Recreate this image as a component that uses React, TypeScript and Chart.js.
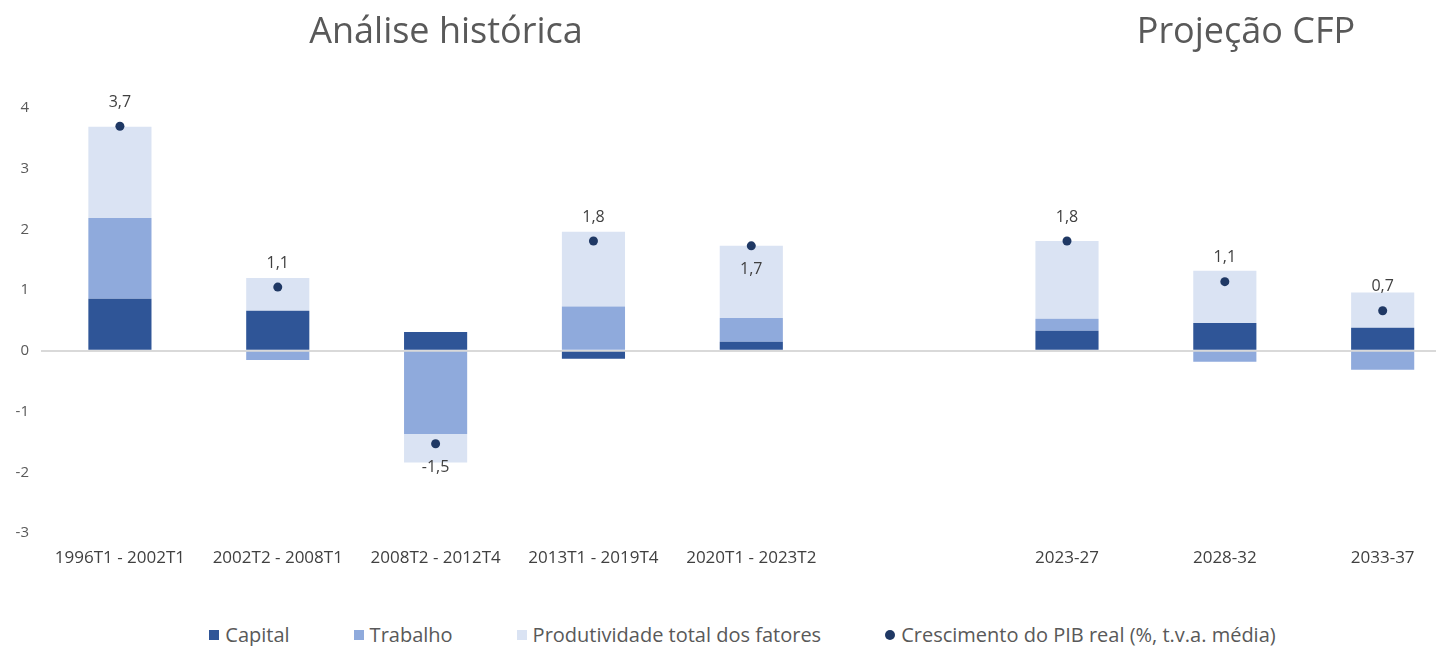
import React, { useEffect, useRef } from "react";
import { Chart, registerables } from "chart.js";

Chart.register(...registerables);

// ---- data ----
const categories = [
  "1996T1 - 2002T1",
  "2002T2 - 2008T1",
  "2008T2 - 2012T4",
  "2013T1 - 2019T4",
  "2020T1 - 2023T2",
  "",
  "2023-27",
  "2028-32",
  "2033-37",
];
const capital = [0.86, 0.66, 0.31, -0.13, 0.15, null, 0.33, 0.46, 0.38];
const trabalho = [1.33, -0.15, -1.37, 0.73, 0.39, null, 0.2, -0.18, -0.31];
const produtividade = [1.5, 0.54, -0.47, 1.23, 1.19, null, 1.28, 0.86, 0.58];
const crescimento = [3.7, 1.05, -1.53, 1.81, 1.73, null, 1.81, 1.14, 0.66];
const crescimentoLabels = ["3,7", "1,1", "-1,5", "1,8", "1,7", "", "1,8", "1,1", "0,7"];
const labelBelow = [false, false, true, false, true, false, false, false, false];
const yMin = -3;
const yMax = 4;
const seriesNames = [
  "Capital",
  "Trabalho",
  "Produtividade total dos fatores",
  "Crescimento do PIB real (%, t.v.a. média)",
];
const titles = ["Análise histórica", "Projeção CFP"];

const COLORS = ["#2F5597", "#8FAADC", "#DAE3F3", "#1F3864"];
const FONT = "'Open Sans', sans-serif";

const toPoints = (arr: (number | null)[]) =>
  arr
    .map((v, i) => (v === null ? null : { x: i, y: v }))
    .filter((p) => p !== null) as { x: number; y: number }[];

const labelPlugin = {
  id: "pibLabels",
  afterDatasetsDraw(chart: any) {
    const meta = chart.getDatasetMeta(3);
    const ctx = chart.ctx;
    ctx.save();
    ctx.font = `16px ${FONT}`;
    ctx.fillStyle = "#404040";
    ctx.textAlign = "center";
    ctx.textBaseline = "middle";
    const pts = toPoints(crescimento);
    meta.data.forEach((el: any, j: number) => {
      const idx = pts[j].x;
      const txt = crescimentoLabels[idx];
      const y = labelBelow[idx] ? el.y + 24 : el.y - 24;
      ctx.fillText(txt, el.x, y);
    });
    ctx.restore();
  },
};

export default function App() {
  const ref = useRef<HTMLCanvasElement | null>(null);

  useEffect(() => {
    if (!ref.current) return;
    const barCommon = {
      type: "bar" as const,
      order: 1,
      categoryPercentage: 1,
      barPercentage: 0.4,
      borderWidth: 0,
    };
    const chart = new Chart(ref.current, {
      type: "bar",
      data: {
        datasets: [
          { ...barCommon, label: seriesNames[0], data: toPoints(capital), backgroundColor: COLORS[0] },
          { ...barCommon, label: seriesNames[1], data: toPoints(trabalho), backgroundColor: COLORS[1] },
          { ...barCommon, label: seriesNames[2], data: toPoints(produtividade), backgroundColor: COLORS[2] },
          {
            type: "line",
            label: seriesNames[3],
            data: toPoints(crescimento),
            order: 0,
            stack: "growth",
            showLine: false,
            pointRadius: 4.5,
            pointBackgroundColor: COLORS[3],
            pointBorderColor: COLORS[3],
            pointBorderWidth: 0,
            borderColor: COLORS[3],
            backgroundColor: COLORS[3],
          } as any,
        ],
      },
      options: {
        animation: false,
        responsive: true,
        maintainAspectRatio: false,
        layout: { padding: { top: 100, left: 0, right: 0, bottom: 0 } },
        plugins: {
          legend: { display: false },
          tooltip: { enabled: false },
        },
        scales: {
          x: {
            type: "linear",
            offset: false,
            stacked: true,
            min: -0.5,
            max: 8.36,
            grid: { display: false, drawTicks: false },
            border: { display: false },
            afterBuildTicks: (axis: any) => {
              axis.ticks = categories.map((_, i) => ({ value: i }));
            },
            afterFit: (scale: any) => {
              scale.height = 75;
            },
            ticks: {
              autoSkip: false,
              maxRotation: 0,
              minRotation: 0,
              padding: 15,
              color: "#404040",
              font: { family: FONT, size: 17 },
              callback: (v: any) => categories[v] ?? "",
            },
          },
          y: {
            stacked: true,
            min: yMin,
            max: yMax,
            grid: {
              drawTicks: false,
              color: (c: any) => (c.tick && c.tick.value === 0 ? "#D9D9D9" : "rgba(0,0,0,0)"),
              lineWidth: 2,
            },
            border: { display: false },
            afterFit: (scale: any) => {
              scale.width = 33;
            },
            ticks: {
              stepSize: 1,
              padding: 12,
              color: "#595959",
              font: { family: FONT, size: 15 },
            },
          },
        },
      } as any,
      plugins: [labelPlugin],
    });
    return () => chart.destroy();
  }, []);

  const legendItems = seriesNames.map((name, i) => (
    <div key={name} style={{ display: "flex", alignItems: "center" }}>
      <span
        style={{
          display: "inline-block",
          width: 10,
          height: 10,
          background: COLORS[i],
          borderRadius: i === 3 ? "50%" : 0,
          marginRight: 6,
        }}
      />
      <span>{name}</span>
    </div>
  ));

  const titleStyle: React.CSSProperties = {
    position: "absolute",
    top: 22,
    transform: "translate(-50%, -50%)",
    fontSize: 36,
    lineHeight: 1,
    color: "#595959",
    whiteSpace: "nowrap",
  };

  return (
    <div style={{ position: "relative", width: 1436, height: 638, fontFamily: FONT }}>
      <div style={{ position: "absolute", left: 0, top: 0, width: 1436, height: 600 }}>
        <canvas ref={ref} />
      </div>
      <div style={{ ...titleStyle, left: 438 }}>{titles[0]}</div>
      <div style={{ ...titleStyle, left: 1238 }}>{titles[1]}</div>
      <div
        style={{
          position: "absolute",
          left: 33,
          width: 1403,
          top: 615,
          height: 24,
          display: "flex",
          justifyContent: "center",
          alignItems: "center",
          gap: 64,
          fontSize: 20,
          lineHeight: 1,
          color: "#595959",
          whiteSpace: "nowrap",
        }}
      >
        {legendItems}
      </div>
    </div>
  );
}
